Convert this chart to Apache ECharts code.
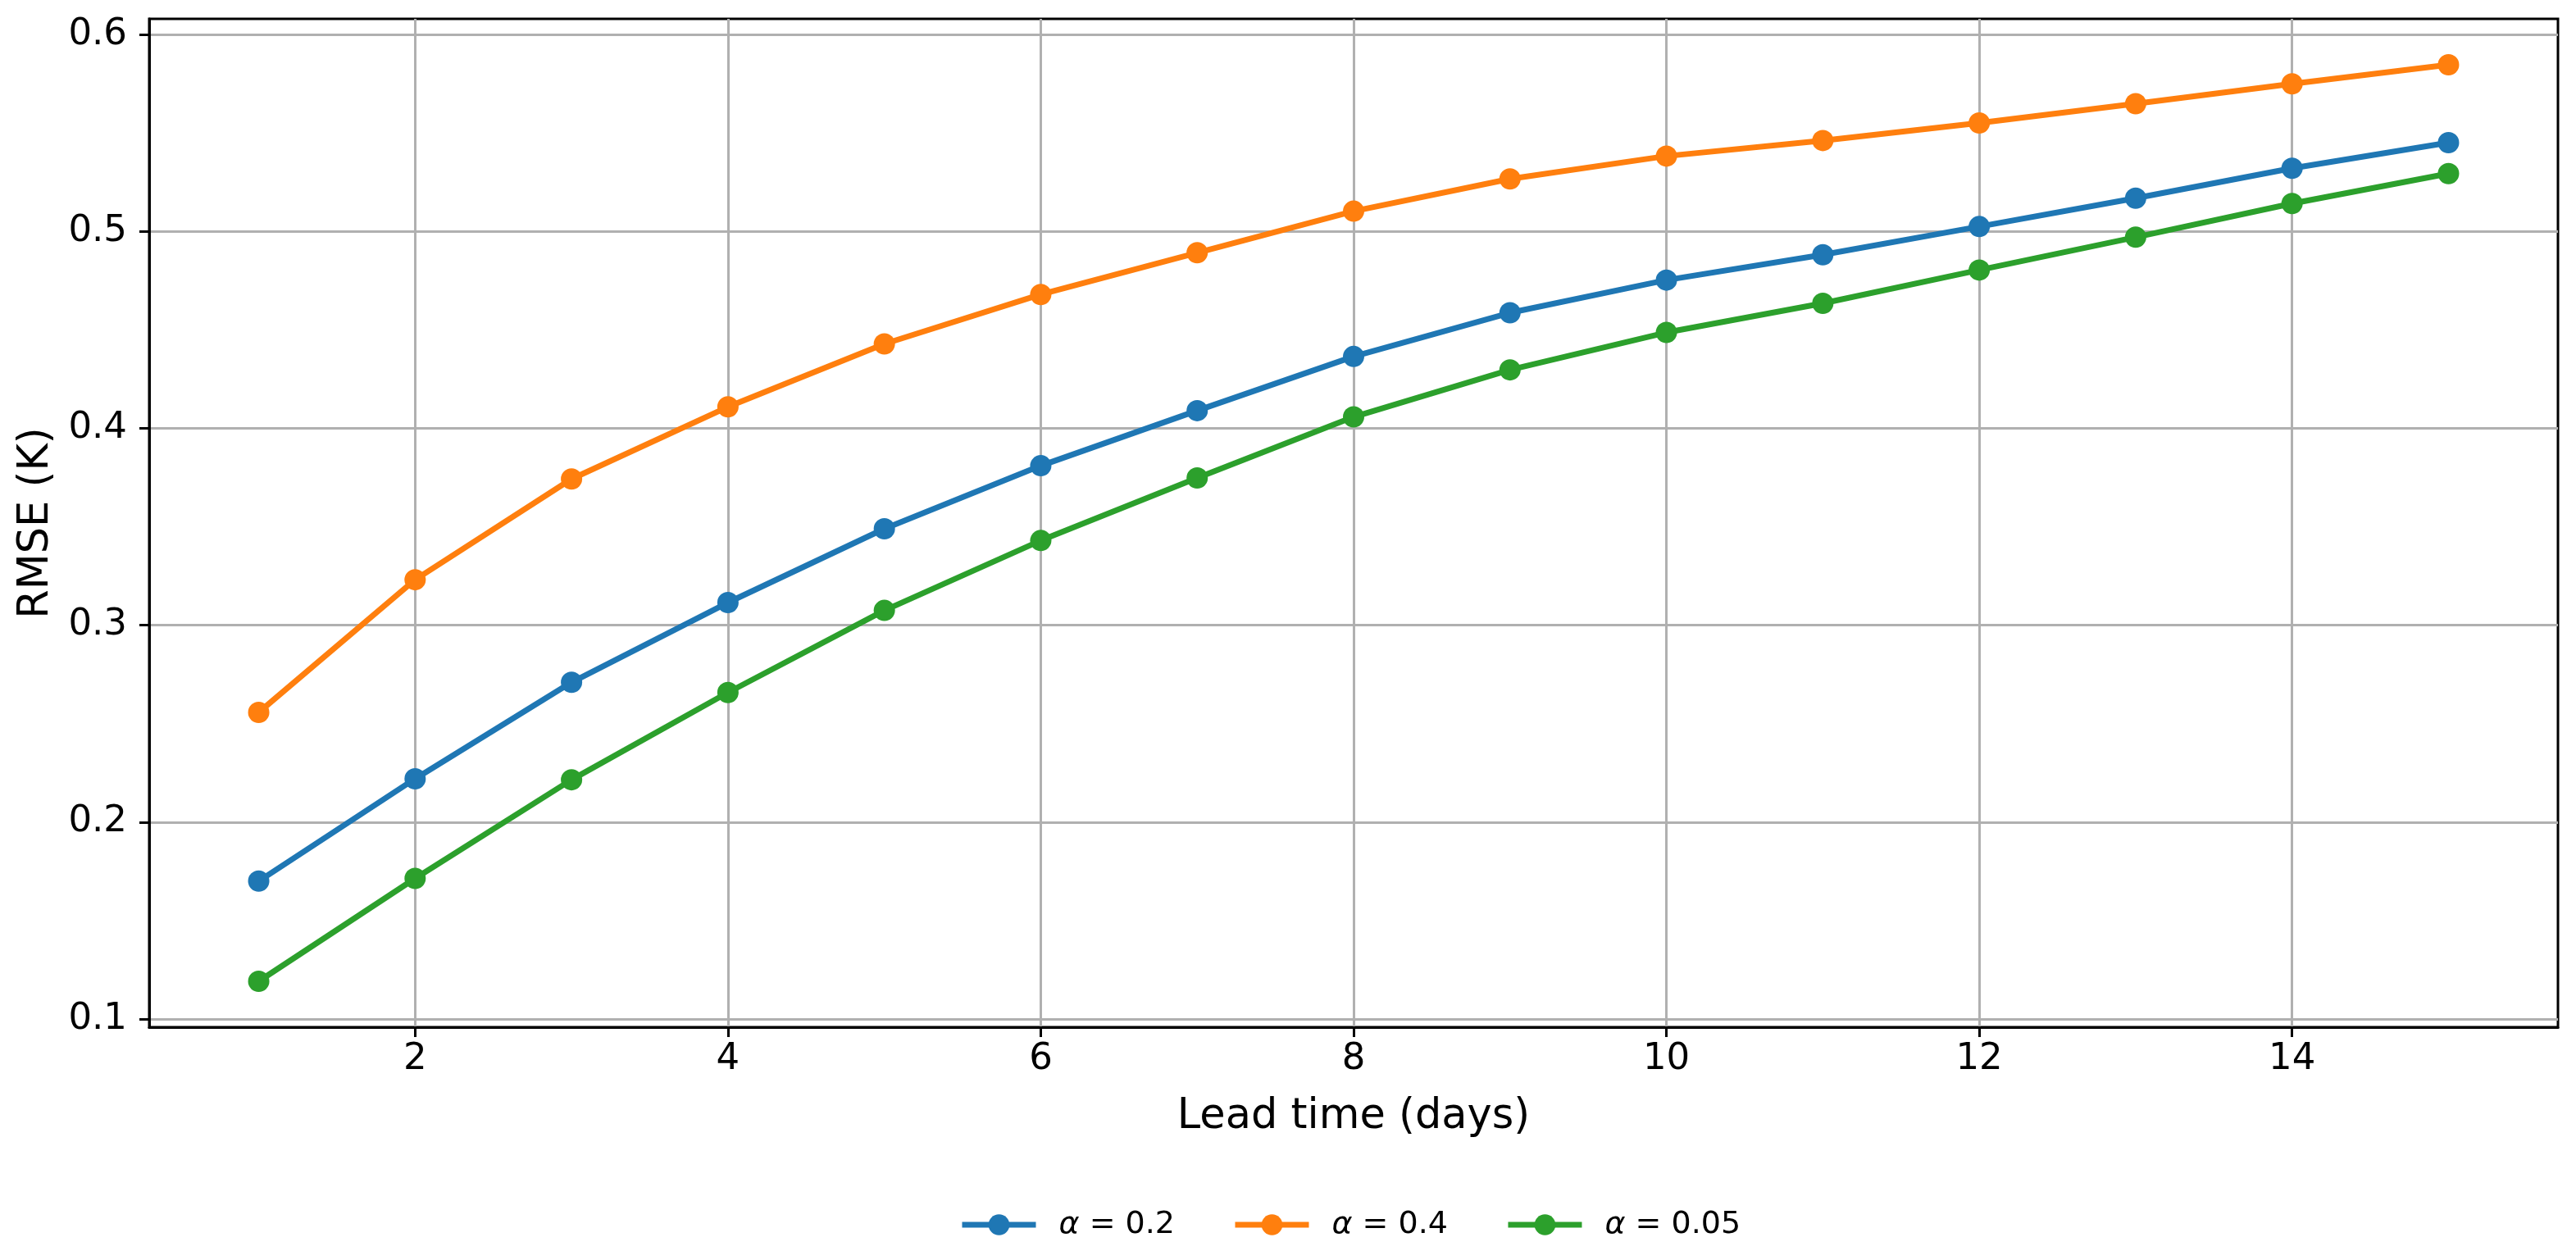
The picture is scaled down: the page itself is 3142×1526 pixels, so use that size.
<!DOCTYPE html>
<html>
<head>
<meta charset="utf-8">
<title>RMSE vs lead time</title>
<script src="https://cdn.jsdelivr.net/npm/echarts@6/dist/echarts.min.js"></script>
<style>
    html, body { margin: 0; padding: 0; background: #fff; }
    #chart { width: 3142px; height: 1526px; }
</style>
</head>
<body>
<div id="chart"></div>
<script>
'use strict';

// lead time in days
var leadDays = [1, 2, 3, 4, 5, 6, 7, 8, 9, 10, 11, 12, 13, 14, 15];

// RMSE (K) per alpha
var rmseAlpha02 = [0.170, 0.222, 0.271, 0.3115, 0.349, 0.381, 0.409, 0.4365, 0.4587, 0.4753, 0.4882, 0.5025, 0.5169, 0.5321, 0.5451];
var rmseAlpha04 = [0.2557, 0.3231, 0.3743, 0.4109, 0.4429, 0.468, 0.4892, 0.5103, 0.5267, 0.5383, 0.5462, 0.5551, 0.5649, 0.575, 0.5847];
var rmseAlpha005 = [0.1191, 0.1714, 0.2215, 0.2658, 0.3075, 0.343, 0.3748, 0.4058, 0.4297, 0.4487, 0.4635, 0.4804, 0.4971, 0.5142, 0.5294];

var seriesNames = ['α = 0.2', 'α = 0.4', 'α = 0.05'];
var seriesColors = ['#1f77b4', '#ff7f0e', '#2ca02c'];

var xTicks = [2, 4, 6, 8, 10, 12, 14];
var yTicks = [0.1, 0.2, 0.3, 0.4, 0.5, 0.6];

var FONT = 'DejaVu Sans';
var LINE_W = 7;

function pairs(values) {
    return leadDays.map(function (d, i) { return [d, values[i]]; });
}

// shallow merge helper
function merge(base, extra) {
    var out = {};
    Object.keys(base).forEach(function (k) { out[k] = base[k]; });
    Object.keys(extra).forEach(function (k) { out[k] = extra[k]; });
    return out;
}

function makeSeries(name, values, color) {
    return {
        name: name,
        type: 'line',
        data: pairs(values),
        symbol: 'circle',
        symbolSize: 26,
        showSymbol: true,
        itemStyle: { color: color },
        lineStyle: { color: color, width: LINE_W },
        emphasis: { disabled: true }
    };
}

var chart = echarts.init(document.getElementById('chart'), null, { renderer: 'canvas' });

var axisLine = { show: true, lineStyle: { color: '#000', width: 3 } };
var axisTick = { show: true, inside: false, length: 12, lineStyle: { color: '#000', width: 3 } };
var splitLine = { show: true, lineStyle: { color: '#b0b0b0', width: 3 } };

var options = {
    animation: false,
    backgroundColor: '#fff',
    grid: {
        left: 182,
        right: 22,
        top: 23,
        bottom: 273,
        show: true,
        borderColor: '#000',
        borderWidth: 3,
        backgroundColor: 'transparent',
        containLabel: false
    },
    legend: {
        data: seriesNames,
        left: 1170,
        top: 1475,
        padding: 0,
        itemWidth: 90,
        itemHeight: 32,
        itemGap: 70,
        lineStyle: { width: LINE_W },
        formatter: function (name) {
            return '{i|α}{n|' + name.replace('α', '') + '}';
        },
        textStyle: {
            color: '#000',
            fontFamily: FONT,
            fontSize: 38,
            padding: [0, 0, 0, 23],
            rich: {
                i: { fontFamily: FONT, fontSize: 38, fontStyle: 'italic', color: '#000' },
                n: { fontFamily: FONT, fontSize: 38, color: '#000' }
            }
        }
    },
    xAxis: {
        type: 'value',
        min: 0.3,
        max: 15.7,
        name: 'Lead time (days)',
        nameLocation: 'middle',
        nameGap: 84,
        nameTextStyle: { color: '#000', fontFamily: FONT, fontSize: 51 },
        axisLine: axisLine,
        axisTick: merge(axisTick, { customValues: xTicks }),
        splitLine: splitLine,
        axisLabel: {
            customValues: xTicks,
            color: '#000',
            fontFamily: FONT,
            fontSize: 45,
            margin: 17
        }
    },
    yAxis: {
        type: 'value',
        min: 0.0958,
        max: 0.608,
        name: 'RMSE (K)',
        nameLocation: 'middle',
        nameGap: 112,
        nameTextStyle: { color: '#000', fontFamily: FONT, fontSize: 51 },
        axisLine: axisLine,
        axisTick: merge(axisTick, { customValues: yTicks }),
        splitLine: splitLine,
        axisLabel: {
            customValues: yTicks,
            color: '#000',
            fontFamily: FONT,
            fontSize: 45,
            margin: 27,
            formatter: function (v) { return String(Math.round(v * 10) / 10); }
        }
    },
    series: [
        makeSeries(seriesNames[0], rmseAlpha02, seriesColors[0]),
        makeSeries(seriesNames[1], rmseAlpha04, seriesColors[1]),
        makeSeries(seriesNames[2], rmseAlpha005, seriesColors[2])
    ]
};

chart.setOption(options);
</script>
</body>
</html>
